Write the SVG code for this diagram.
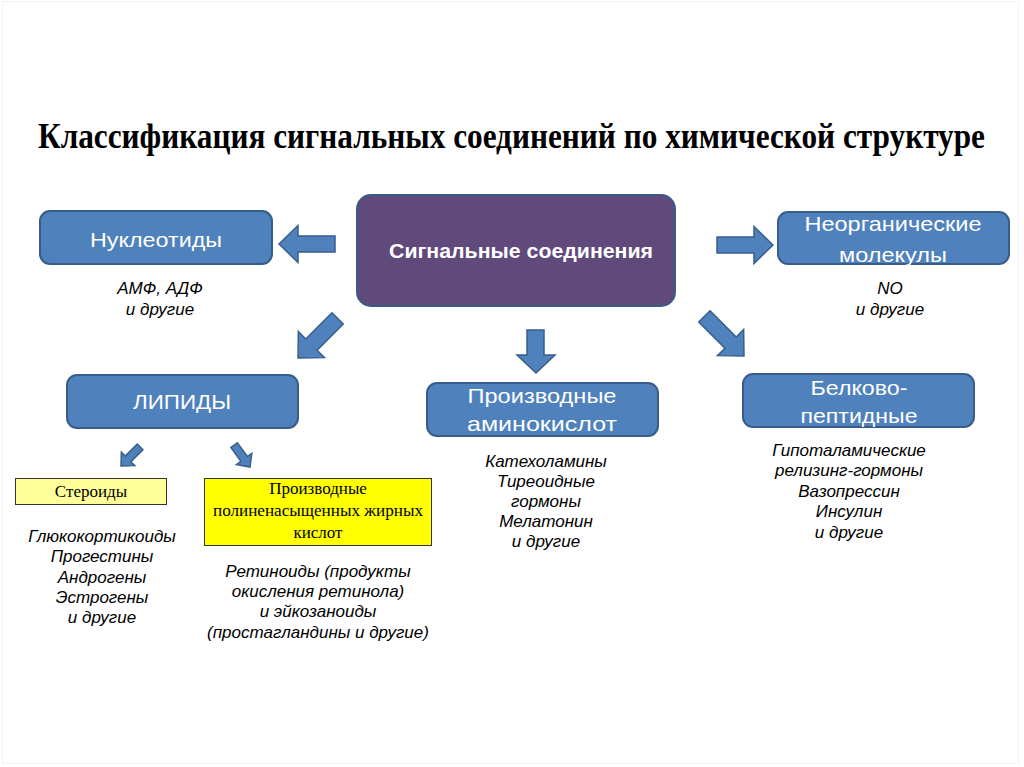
<svg xmlns="http://www.w3.org/2000/svg" width="1024" height="767" viewBox="0 0 1024 767">
<defs>
<style>
.box{fill:#4F81BD;stroke:#385D8A;stroke-width:2}
.center{fill:#604A7B;stroke:#3B5A86;stroke-width:2}
.lbl{font-family:"Liberation Sans",Arial,sans-serif;font-size:21px;fill:#FFFFFF;text-anchor:middle}
.note{font-family:"Liberation Sans",Arial,sans-serif;font-size:17px;font-style:italic;fill:#000000;text-anchor:middle}
.ser{font-family:"Liberation Serif","Times New Roman",serif;font-size:17px;fill:#000000;text-anchor:middle}
.arr{fill:#4F81BD;stroke:#385D8A;stroke-width:1.5;stroke-linejoin:miter}
</style>
<path id="bigArrow" d="M0,0 L-19,-18.5 L-19,-8 L-56,-8 L-56,8 L-19,8 L-19,18.5 Z"/>
<path id="smallArrow" d="M0,0 L-10,-9.5 L-10,-4 L-27,-4 L-27,4 L-10,4 L-10,9.5 Z"/>
</defs>
<rect x="0" y="0" width="1024" height="767" fill="#FFFFFF"/>
<rect x="2.5" y="1.5" width="1016" height="762" fill="none" stroke="#F3F3F3" stroke-width="1"/>

<text x="38" y="148" font-family="'Liberation Serif','Times New Roman',serif" font-weight="bold" font-size="35" textLength="947" lengthAdjust="spacingAndGlyphs" fill="#000000">Классификация сигнальных соединений по химической структуре</text>

<g id="connectors">
<use href="#bigArrow" class="arr" transform="translate(279,244) rotate(180)"/>
<use href="#bigArrow" class="arr" transform="translate(773,245)"/>
<use href="#bigArrow" class="arr" transform="translate(298,358) rotate(135)"/>
<use href="#bigArrow" class="arr" transform="translate(744,356) rotate(45)"/>
<path class="arr" d="M536,373 L517,355 L527,355 L527,330 L544,330 L544,355 L555,355 Z"/>
<use href="#smallArrow" class="arr" transform="translate(121,466) rotate(135)"/>
<use href="#smallArrow" class="arr" transform="translate(250,467) rotate(54)"/>
</g>

<g id="node-center">
<rect class="center" x="357" y="195" width="318" height="111" rx="14"/>
<text class="lbl" x="521" y="258" font-weight="bold" textLength="264" lengthAdjust="spacingAndGlyphs">Сигнальные соединения</text>
</g>

<g id="node-nucleotides">
<rect class="box" x="40" y="211" width="232" height="53" rx="10"/>
<text class="lbl" x="156" y="247" font-size="22" textLength="132" lengthAdjust="spacingAndGlyphs">Нуклеотиды</text>
</g>

<g id="node-inorganic">
<rect class="box" x="778" y="212" width="231" height="52" rx="10"/>
<text class="lbl" x="893" y="231" font-size="22" textLength="177" lengthAdjust="spacingAndGlyphs">Неорганические</text>
<text class="lbl" x="893" y="262" font-size="22" textLength="108" lengthAdjust="spacingAndGlyphs">молекулы</text>
</g>

<g id="node-lipids">
<rect class="box" x="67" y="375" width="231" height="53" rx="10"/>
<text class="lbl" x="182" y="409" font-size="21" textLength="98" lengthAdjust="spacingAndGlyphs">ЛИПИДЫ</text>
</g>

<g id="node-amino">
<rect class="box" x="427" y="383" width="231" height="53" rx="10"/>
<text class="lbl" x="542" y="403" font-size="22" textLength="149" lengthAdjust="spacingAndGlyphs">Производные</text>
<text class="lbl" x="542" y="431" font-size="22" textLength="150" lengthAdjust="spacingAndGlyphs">аминокислот</text>
</g>

<g id="node-protein">
<rect class="box" x="743" y="374" width="231" height="53" rx="10"/>
<text class="lbl" x="859" y="395" font-size="22" textLength="97" lengthAdjust="spacingAndGlyphs">Белково-</text>
<text class="lbl" x="859" y="423" font-size="22" textLength="117" lengthAdjust="spacingAndGlyphs">пептидные</text>
</g>

<g id="node-steroids">
<rect x="15.5" y="478.5" width="151" height="26" fill="#FFFF99" stroke="#333333" stroke-width="1"/>
<text class="ser" x="91" y="497">Стероиды</text>
</g>

<g id="node-pufa">
<rect x="204.5" y="478.5" width="227" height="67" fill="#FFFF00" stroke="#333333" stroke-width="1"/>
<text class="ser" x="318" y="494" font-size="16">Производные</text>
<text class="ser" x="318" y="516" font-size="16" textLength="210" lengthAdjust="spacingAndGlyphs">полиненасыщенных жирных</text>
<text class="ser" x="318" y="538" font-size="16">кислот</text>
</g>

<g id="note-nucleotides">
<text class="note" x="160" y="294">АМФ, АДФ</text>
<text class="note" x="160" y="315">и другие</text>
</g>

<g id="note-inorganic">
<text class="note" x="890" y="294">NO</text>
<text class="note" x="890" y="315">и другие</text>
</g>

<g id="note-steroids">
<text class="note" x="102" y="542">Глюкокортикоиды</text>
<text class="note" x="102" y="562">Прогестины</text>
<text class="note" x="102" y="583">Андрогены</text>
<text class="note" x="102" y="603">Эстрогены</text>
<text class="note" x="102" y="623">и другие</text>
</g>

<g id="note-pufa">
<text class="note" x="318" y="577">Ретиноиды (продукты</text>
<text class="note" x="318" y="597">окисления ретинола)</text>
<text class="note" x="318" y="617">и эйкозаноиды</text>
<text class="note" x="318" y="638">(простагландины и другие)</text>
</g>

<g id="note-amino">
<text class="note" x="546" y="467">Катехоламины</text>
<text class="note" x="546" y="487">Тиреоидные</text>
<text class="note" x="546" y="507">гормоны</text>
<text class="note" x="546" y="527">Мелатонин</text>
<text class="note" x="546" y="547">и другие</text>
</g>

<g id="note-protein">
<text class="note" x="849" y="456">Гипоталамические</text>
<text class="note" x="849" y="476">релизинг-гормоны</text>
<text class="note" x="849" y="497">Вазопрессин</text>
<text class="note" x="849" y="517">Инсулин</text>
<text class="note" x="849" y="538">и другие</text>
</g>
</svg>
